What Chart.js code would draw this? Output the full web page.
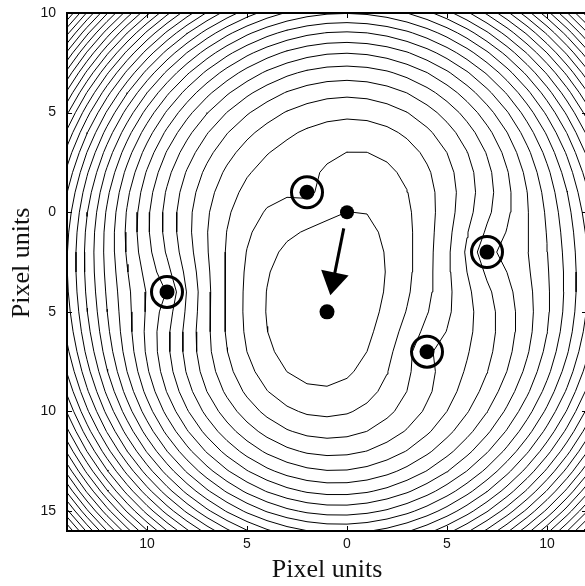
<!DOCTYPE html>
<html lang="en">
<head>
<meta charset="UTF-8">
<title>Range error contours</title>
<script src="https://cdn.jsdelivr.net/npm/chart.js"></script>
<style>
  html, body { margin: 0; padding: 0; background: #fff; overflow: hidden; }
  #wrap { width: 600px; height: 586px; }
</style>
</head>
<body>
<div id="wrap"><canvas id="contourChart" width="600" height="586"></canvas></div>
<script>
// reference points (pixel units, y grows downward) and the ranges measured to them
const anchorX = [-2, 7, 4, -9];
const anchorY = [-1, 2, 7, 4];
const anchorRange = [5.66, 8.60, 5.73, 7.82];

// start guess and the updated estimate (the arrow goes from the first to the second)
const estimateX = [0, -1];
const estimateY = [0, 5];

// axes
const xTicks = [-10, -5, 0, 5, 10];
const yTicks = [-10, -5, 0, 5, 10, 15];
const xRange = [-14, 12];
const yRange = [-10, 16];
const contourStep = 23.2;

// squared range error, sampled on a 1 unit grid
function rangeError(x, y) {
    let s = 0;
    for (let k = 0; k < anchorX.length; k++) {
        const d = Math.hypot(x - anchorX[k], y - anchorY[k]);
        s += (d - anchorRange[k]) ** 2;
    }
    return s;
}

const nx = xRange[1] - xRange[0] + 1;
const ny = yRange[1] - yRange[0] + 1;
const field = [];
let fieldMax = 0;
for (let j = 0; j < ny; j++) {
    const row = [];
    for (let i = 0; i < nx; i++) {
        const v = rangeError(xRange[0] + i, yRange[0] + j);
        row.push(v);
        fieldMax = Math.max(fieldMax, v);
    }
    field.push(row);
}

// marching squares, segments chained into polylines, gaps as null points
function traceLevel(level) {
    const pts = new Map();
    const segs = [];
    const node = (i, j) => field[j][i];
    function edgePoint(key, i0, j0, i1, j1) {
        if (!pts.has(key)) {
            const a = node(i0, j0), b = node(i1, j1);
            const t = (level - a) / (b - a);
            pts.set(key, { x: xRange[0] + i0 + (i1 - i0) * t, y: yRange[0] + j0 + (j1 - j0) * t });
        }
        return key;
    }
    for (let j = 0; j < ny - 1; j++) {
        for (let i = 0; i < nx - 1; i++) {
            const c = [node(i, j) >= level, node(i + 1, j) >= level, node(i + 1, j + 1) >= level, node(i, j + 1) >= level];
            const e = [];
            if (c[0] !== c[1]) e[0] = edgePoint('h' + i + '_' + j, i, j, i + 1, j);
            if (c[1] !== c[2]) e[1] = edgePoint('v' + (i + 1) + '_' + j, i + 1, j, i + 1, j + 1);
            if (c[3] !== c[2]) e[2] = edgePoint('h' + i + '_' + (j + 1), i, j + 1, i + 1, j + 1);
            if (c[0] !== c[3]) e[3] = edgePoint('v' + i + '_' + j, i, j, i, j + 1);
            const cut = [0, 1, 2, 3].filter(n => e[n] !== undefined);
            if (cut.length === 2) {
                segs.push([e[cut[0]], e[cut[1]]]);
            } else if (cut.length === 4) {
                const mid = (node(i, j) + node(i + 1, j) + node(i + 1, j + 1) + node(i, j + 1)) / 4 >= level;
                if (mid === c[0]) segs.push([e[0], e[1]], [e[2], e[3]]);
                else segs.push([e[0], e[3]], [e[1], e[2]]);
            }
        }
    }
    const adj = new Map();
    segs.forEach((s, k) => s.forEach(key => {
        if (!adj.has(key)) adj.set(key, []);
        adj.get(key).push(k);
    }));
    const used = new Array(segs.length).fill(false);
    const out = [];
    function walk(key) {
        const line = [pts.get(key)];
        for (;;) {
            const k = adj.get(key).find(n => !used[n]);
            if (k === undefined) break;
            used[k] = true;
            key = segs[k][0] === key ? segs[k][1] : segs[k][0];
            line.push(pts.get(key));
        }
        if (out.length) out.push({ x: null, y: null });
        out.push(...line);
    }
    for (const [key, list] of adj) {
        if (list.length === 1 && !used[list[0]]) walk(key);
    }
    segs.forEach((s, k) => { if (!used[k]) walk(s[0]); });
    return out;
}

const contourSets = [];
for (let level = contourStep; level < fieldMax; level += contourStep) {
    contourSets.push({
        data: traceLevel(level),
        showLine: true,
        spanGaps: false,
        borderColor: '#000',
        borderWidth: 1,
        borderCapStyle: 'round',
        borderJoinStyle: 'round',
        pointRadius: 0,
        pointHitRadius: 0,
        tension: 0,
        order: 2
    });
}

const anchorPoints = anchorX.map((x, k) => ({ x: x, y: anchorY[k] }));

const markerSets = [
    {   // rings round the reference points
        data: anchorPoints,
        pointRadius: 15.5,
        backgroundColor: 'rgba(0,0,0,0)',
        borderColor: '#000',
        borderWidth: 3,
        order: 0
    },
    {   // reference points
        data: anchorPoints,
        pointRadius: 7.5,
        backgroundColor: '#000',
        borderWidth: 0,
        order: 0
    },
    {   // start guess
        data: [{ x: estimateX[0], y: estimateY[0] }],
        pointRadius: 7,
        backgroundColor: '#000',
        borderWidth: 0,
        order: 0
    },
    {   // estimate
        data: [{ x: estimateX[1], y: estimateY[1] }],
        pointRadius: 7.5,
        backgroundColor: '#000',
        borderWidth: 0,
        order: 0
    }
];

// arrow from start guess to estimate
const arrowPlugin = {
    id: 'arrow',
    afterDatasetsDraw(chart) {
        const { ctx, scales: { x, y } } = chart;
        const x0 = x.getPixelForValue(estimateX[0]), y0 = y.getPixelForValue(estimateY[0]);
        const x1 = x.getPixelForValue(estimateX[1]), y1 = y.getPixelForValue(estimateY[1]);
        const len = Math.hypot(x1 - x0, y1 - y0);
        const ux = (x1 - x0) / len, uy = (y1 - y0) / len;
        const sx = x0 + ux * 16.5, sy = y0 + uy * 16.5;
        const tx = x1 - ux * 17, ty = y1 - uy * 17;
        const bx = tx - ux * 23, by = ty - uy * 23;
        ctx.save();
        ctx.strokeStyle = '#000';
        ctx.fillStyle = '#000';
        ctx.lineWidth = 3;
        ctx.beginPath();
        ctx.moveTo(sx, sy);
        ctx.lineTo(bx + ux * 2, by + uy * 2);
        ctx.stroke();
        ctx.beginPath();
        ctx.moveTo(tx, ty);
        ctx.lineTo(bx - uy * 14, by + ux * 14);
        ctx.lineTo(bx + uy * 14, by - ux * 14);
        ctx.closePath();
        ctx.fill();
        ctx.restore();
    }
};

// box, inward tick marks and the rotated y title
const framePlugin = {
    id: 'frame',
    afterDraw(chart) {
        const { ctx, chartArea: a, scales: { x, y } } = chart;
        ctx.save();
        ctx.strokeStyle = '#000';
        ctx.lineWidth = 2;
        ctx.strokeRect(a.left, a.top, a.right - a.left, a.bottom - a.top);
        ctx.lineWidth = 1;
        ctx.beginPath();
        xTicks.forEach(v => {
            const px = Math.round(x.getPixelForValue(v)) + 0.5;
            ctx.moveTo(px, a.bottom); ctx.lineTo(px, a.bottom - 5);
            ctx.moveTo(px, a.top); ctx.lineTo(px, a.top + 5);
        });
        yTicks.forEach(v => {
            const py = Math.round(y.getPixelForValue(v)) + 0.5;
            ctx.moveTo(a.left, py); ctx.lineTo(a.left + 5, py);
            ctx.moveTo(a.right, py); ctx.lineTo(a.right - 5, py);
        });
        ctx.stroke();
        ctx.translate(22, 263);
        ctx.rotate(-Math.PI / 2);
        ctx.font = '26px "Liberation Serif", "Times New Roman", serif';
        ctx.fillStyle = '#111';
        ctx.textAlign = 'center';
        ctx.textBaseline = 'middle';
        ctx.fillText('Pixel units', 0, 0);
        ctx.restore();
    }
};

// fixed axis boxes, no extra room for label overhang
function fixBox(size) {
    return s => {
        if (s.isHorizontal()) s.height = size; else s.width = size;
        s.paddingTop = 0; s.paddingBottom = 0; s.paddingLeft = 0; s.paddingRight = 0;
    };
}

const tickFont = { family: '"Liberation Sans", Arial, sans-serif', size: 14 };

new Chart(document.getElementById('contourChart').getContext('2d'), {
    type: 'scatter',
    data: { datasets: markerSets.concat(contourSets) },
    options: {
        responsive: false,
        animation: false,
        events: [],
        layout: { autoPadding: false, padding: { top: 13, right: 13, left: 0, bottom: 0 } },
        plugins: { legend: { display: false }, tooltip: { enabled: false } },
        scales: {
            x: {
                type: 'linear',
                min: xRange[0],
                max: xRange[1],
                grid: { display: false, drawTicks: false },
                border: { display: false },
                afterBuildTicks: s => { s.ticks = xTicks.map(v => ({ value: v })); },
                afterFit: fixBox(55),
                ticks: {
                    padding: 5,
                    color: '#111',
                    font: tickFont,
                    maxRotation: 0,
                    callback: v => String(Math.abs(v))
                },
                title: {
                    display: true,
                    text: 'Pixel units',
                    color: '#111',
                    font: { family: '"Liberation Serif", "Times New Roman", serif', size: 26, lineHeight: 1 },
                    padding: { top: 0, bottom: 3 }
                }
            },
            y: {
                type: 'linear',
                reverse: true,
                min: yRange[0],
                max: yRange[1],
                grid: { display: false, drawTicks: false },
                border: { display: false },
                afterBuildTicks: s => { s.ticks = yTicks.map(v => ({ value: v })); },
                afterFit: fixBox(67),
                ticks: {
                    padding: 11,
                    color: '#111',
                    font: tickFont,
                    callback: v => String(Math.abs(v))
                }
            }
        }
    },
    plugins: [arrowPlugin, framePlugin]
});
</script>
</body>
</html>
